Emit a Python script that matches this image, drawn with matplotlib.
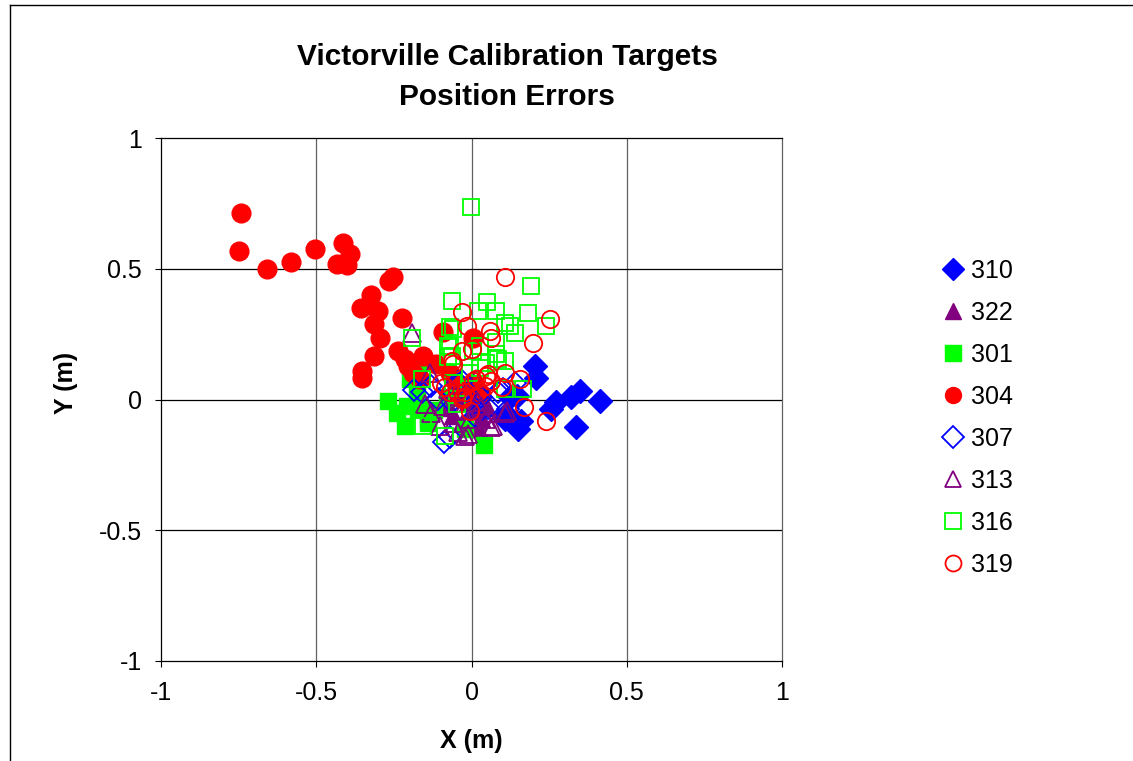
import matplotlib
matplotlib.use("Agg")
import matplotlib.pyplot as plt
from matplotlib.lines import Line2D

plt.rcParams['font.family'] = ['Liberation Sans', 'DejaVu Sans']

# ---- data (X, Y position errors in metres) ----
x310 = [0.204, 0.209, 0.348, 0.322, 0.273, 0.257, 0.413, 0.338, 0.145, 0.107, 0.145, 0.161, 0.112, 0.150, 0.125]
y310 = [0.128, 0.084, 0.033, 0.008, -0.011, -0.037, -0.005, -0.107, -0.088, -0.075, 0.014, -0.082, -0.056, -0.114, 0.010]

x322 = [-0.060, -0.030, 0.000, 0.030, -0.010, 0.020, 0.050, -0.045, -0.080, 0.010]
y322 = [-0.060, -0.090, -0.040, -0.070, -0.010, -0.110, -0.030, 0.010, -0.030, 0.020]

x301 = [-0.268, -0.241, -0.215, -0.172, -0.140, 0.040, -0.199, -0.177, -0.209, -0.140, -0.170, -0.022, -0.120, -0.080]
y301 = [-0.005, -0.050, -0.101, -0.037, -0.088, -0.174, 0.078, 0.027, -0.025, -0.075, 0.100, -0.114, -0.040, 0.010]

x304 = [-0.743, -0.749, -0.660, -0.582, -0.504, -0.415, -0.392, -0.434, -0.402, -0.254, -0.265,
        -0.325, -0.356, -0.301, -0.314, -0.295, -0.313, -0.354, -0.354, -0.225, -0.091, 0.005,
        -0.236, -0.215, -0.204, -0.156, -0.188, -0.166, -0.113, -0.070, -0.060, -0.030, 0.000, 0.030]
y304 = [0.715, 0.568, 0.498, 0.525, 0.575, 0.600, 0.556, 0.517, 0.514, 0.469, 0.454,
        0.399, 0.349, 0.339, 0.287, 0.237, 0.167, 0.109, 0.084, 0.310, 0.259, 0.237,
        0.186, 0.154, 0.129, 0.167, 0.103, 0.078, 0.135, 0.103, 0.080, 0.050, 0.060, 0.020]

x307 = [-0.185, -0.160, -0.090, -0.068, -0.107, -0.064, -0.044, -0.032, 0.053, 0.118, 0.086, 0.139, 0.011, 0.102, -0.130, 0.000, 0.030, -0.010]
y307 = [0.036, 0.027, -0.164, -0.142, 0.001, -0.011, 0.066, 0.071, -0.031, -0.037, 0.027, 0.065, -0.063, 0.039, 0.050, -0.020, 0.010, 0.030]

x313 = [-0.193, -0.134, -0.091, -0.129, -0.102, -0.022, 0.064, 0.113, -0.059, -0.005, 0.016, -0.048,
        0.048, 0.070, -0.011, 0.053, 0.107, 0.032, -0.043, -0.150, -0.075, -0.030, 0.020]
y313 = [0.256, 0.103, -0.024, -0.050, -0.101, -0.139, -0.107, -0.044, -0.088, -0.075, 0.078, 0.014,
        -0.075, -0.101, -0.133, -0.050, -0.050, -0.024, -0.126, -0.018, 0.040, -0.040, -0.010]

x316 = [-0.003, 0.193, -0.062, 0.050, 0.080, 0.182, 0.107, 0.241, 0.139, 0.021, -0.059, -0.193,
        -0.075, 0.080, 0.080, 0.107, 0.005, 0.166, -0.059, 0.027, -0.048, -0.156, 0.123, -0.070,
        -0.070, 0.027, -0.076, 0.085, 0.048, -0.005, 0.107, -0.064, -0.086, -0.160]
y316 = [0.738, 0.434, 0.377, 0.371, 0.339, 0.329, 0.294, 0.281, 0.256, 0.339, 0.269, 0.237,
        0.205, 0.218, 0.173, 0.148, 0.186, 0.039, 0.065, 0.122, -0.018, -0.101, 0.281, 0.276,
        0.200, 0.205, 0.161, 0.154, 0.141, 0.103, 0.039, 0.167, -0.139, 0.080]

x319 = [0.109, 0.252, -0.032, -0.014, 0.061, 0.064, 0.198, -0.032, 0.000, -0.064, 0.107, 0.155,
        0.048, 0.016, 0.064, 0.097, -0.086, -0.048, -0.027, -0.005, 0.168, 0.241, 0.043,
        -0.032, 0.005, 0.053, -0.022, -0.097, -0.070, -0.059]
y319 = [0.470, 0.307, 0.335, 0.281, 0.262, 0.237, 0.215, 0.186, 0.192, 0.148, 0.103, 0.078,
        0.090, 0.078, 0.071, 0.046, 0.046, 0.027, 0.008, -0.044, -0.027, -0.082, 0.052,
        0.001, 0.071, 0.097, 0.027, 0.065, 0.027, 0.135]

labels = ['310', '322', '301', '304', '307', '313', '316', '319']
ticks = [-1, -0.5, 0, 0.5, 1]
tick_labels = ['-1', '-0.5', '0', '0.5', '1']

BLUE, PURPLE, GREEN, RED = '#0000FF', '#800080', '#00FF00', '#FF0000'

W, H = 1133, 761
fig = plt.figure(figsize=(W / 100, H / 100), dpi=100)
ax = fig.add_axes([161 / W, 1 - 661 / H, (782 - 161) / W, (661 - 138) / H])

series = [
    (x310, y310, 'D', BLUE, True, 12.5),
    (x322, y322, '^', PURPLE, True, 13),
    (x301, y301, 's', GREEN, True, 11.5),
    (x304, y304, 'o', RED, True, 13.5),
    (x307, y307, 'D', BLUE, False, 11),
    (x313, y313, '^', PURPLE, False, 13),
    (x316, y316, 's', GREEN, False, 11.5),
    (x319, y319, 'o', RED, False, 12.5),
]
handles = []
for (xs, ys, m, c, filled, ms), lab in zip(series, labels):
    h, = ax.plot(xs, ys, linestyle='none', marker=m, markersize=ms,
                 markerfacecolor=c if filled else 'none', markeredgecolor=c,
                 markeredgewidth=1.0 if filled else 1.3, label=lab, zorder=3)
    handles.append(h)

ax.set_xlim(-1, 1)
ax.set_ylim(-1, 1)
ax.set_xticks(ticks)
ax.set_xticklabels(tick_labels)
ax.set_yticks(ticks)
ax.set_yticklabels(tick_labels)
for v in [-0.5, 0, 0.5]:
    ax.axvline(v, color='#606060', linewidth=0.9, zorder=1)
    ax.axhline(v, color='black', linewidth=0.9, zorder=1)

ax.tick_params(axis='both', direction='out', length=4.5, width=0.8, labelsize=18, colors='black')
ax.tick_params(axis='x', pad=10)
ax.tick_params(axis='y', pad=9)
for s in ax.spines.values():
    s.set_linewidth(0.9)
ax.spines['right'].set_color('#606060')

fig.text(507 / W, 1 - 57 / H, 'Victorville Calibration Targets', ha='center', va='center',
         fontsize=21.5, fontweight='bold')
fig.text(507 / W, 1 - 97 / H, 'Position Errors', ha='center', va='center',
         fontsize=21.5, fontweight='bold')
fig.text(471 / W, 1 - 741 / H, 'X (m)', ha='center', va='center', fontsize=18, fontweight='bold')
fig.text(66 / W, 1 - 383 / H, 'Y (m)', ha='center', va='center', fontsize=18, fontweight='bold',
         rotation=90)

leg = fig.legend(handles=handles, labels=labels, loc='upper left',
                 bbox_to_anchor=(925 / W, 1 - 246 / H), frameon=False, fontsize=18,
                 labelspacing=0.72, handletextpad=0.15, handlelength=1.2, borderpad=0)
for lh in leg.legend_handles:
    lh.set_markersize(11.5)

# outer chart border (left and top edges visible)
fig.add_artist(Line2D([9.5 / W, 9.5 / W], [0, 1 - 4.5 / H], transform=fig.transFigure,
                      color='black', linewidth=1.0))
fig.add_artist(Line2D([9.5 / W, 1], [1 - 4.5 / H, 1 - 4.5 / H], transform=fig.transFigure,
                      color='black', linewidth=1.0))

fig.savefig('out.png', dpi=100)
